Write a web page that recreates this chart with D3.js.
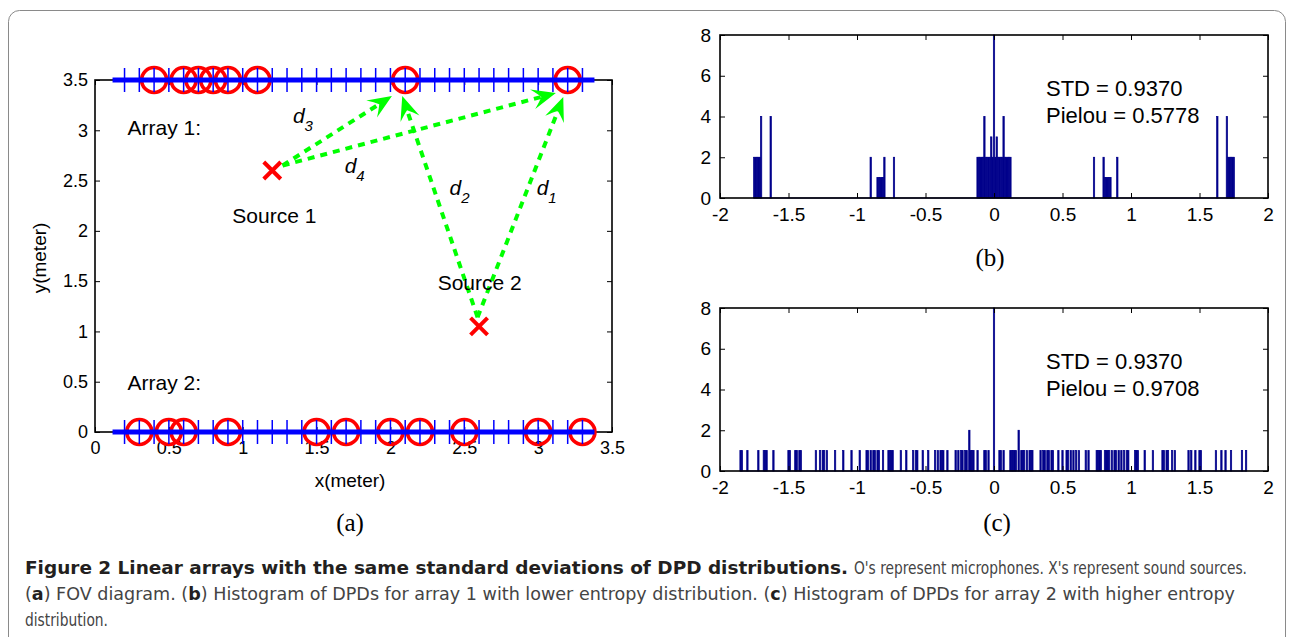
<!DOCTYPE html>
<html><head><meta charset="utf-8">
<script src="https://cdn.jsdelivr.net/npm/d3@7"></script>
<style>
html,body{margin:0;padding:0;background:#fff;}
svg{display:block;font-family:"Liberation Sans",Arial,sans-serif;}
</style></head><body>
<svg id="c" width="1290" height="637"></svg>
<script>
// ---------------- data ----------------
const array1X = [0.4, 0.6, 0.7, 0.8, 0.9, 1.1, 2.1, 3.2];
const array1Y = 3.5;
const array2X = [0.3, 0.5, 0.6, 0.9, 1.5, 1.7, 2.0, 2.2, 2.5, 3.0, 3.3];
const array2Y = 0;
const gridX = [0.2,0.3,0.4,0.5,0.6,0.7,0.8,0.9,1.0,1.1,1.2,1.3,1.4,1.5,1.6,1.7,1.8,1.9,2.0,2.1,2.2,2.3,2.4,2.5,2.6,2.7,2.8,2.9,3.0,3.1,3.2,3.3];
const sourceX = [1.2, 2.6];
const sourceY = [2.6, 1.05];
const sourceNames = ["Source 1", "Source 2"];
const arrowLabels = ["3", "4", "2", "1"];
const arrowFrom = [[1.27, 2.65], [1.27, 2.65], [2.59, 1.14], [2.59, 1.14]];
const arrowTo   = [[2.01, 3.34], [3.12, 3.37], [2.08, 3.34], [3.17, 3.33]];
const axisTicksA = [0, 0.5, 1, 1.5, 2, 2.5, 3, 3.5];
const histXTicks = [-2, -1.5, -1, -0.5, 0, 0.5, 1, 1.5, 2];
const histYTicks = [0, 2, 4, 6, 8];

const binWidth = 0.01;
const histBCenters = [-1.75,-1.74,-1.73,-1.72,-1.71,-1.70,-1.63,-0.90,-0.85,-0.84,-0.83,-0.82,-0.81,-0.80,-0.73,
 -0.12,-0.11,-0.10,-0.09,-0.08,-0.07,-0.06,-0.05,-0.04,-0.03,-0.02,-0.01,0,0.01,0.02,0.03,0.04,0.05,0.06,0.07,0.08,0.09,0.10,0.11,0.12,
 0.73,0.80,0.81,0.82,0.83,0.84,0.85,0.90,1.63,1.70,1.71,1.72,1.73,1.74,1.75];
const histBCounts = [2,2,2,2,2,4,4,2,1,1,1,1,1,2,2,
 2,2,2,2,2,4,2,2,2,2,3,2,8,2,3,2,2,2,2,4,2,2,2,2,2,
 2,2,1,1,1,1,1,2,4,4,2,2,2,2,2];

const histCCenters = [-1.85,-1.84,-1.80,-1.72,-1.68,-1.67,-1.66,-1.61,-1.50,-1.49,-1.45,-1.44,-1.42,-1.41,-1.30,-1.27,-1.25,-1.24,-1.22,-1.16,-1.10,-1.04,-0.98,-0.93,-0.92,-0.90,-0.88,-0.87,-0.85,-0.84,-0.81,-0.77,-0.76,-0.75,-0.74,-0.68,-0.64,-0.59,-0.57,-0.56,-0.52,-0.48,-0.43,-0.41,-0.39,-0.38,-0.37,-0.34,-0.28,-0.26,-0.24,-0.23,-0.21,-0.20,-0.18,-0.17,-0.16,-0.15,-0.12,-0.07,-0.06,-0.04,
 0,
 0.04,0.05,0.07,0.12,0.13,0.14,0.15,0.16,0.18,0.20,0.21,0.22,0.24,0.26,0.27,0.28,0.34,0.36,0.37,0.39,0.40,0.42,0.43,0.47,0.50,0.53,0.54,0.56,0.58,0.60,0.62,0.67,0.69,0.75,0.76,0.77,0.78,0.81,0.82,0.83,0.84,0.86,0.88,0.89,0.91,0.93,0.95,0.97,0.98,1.03,1.04,1.05,1.10,1.16,1.23,1.24,1.26,1.27,1.30,1.32,1.42,1.44,1.47,1.50,1.51,1.62,1.66,1.69,1.73,1.81,1.84];
const histCCounts = histCCenters.map(v => v === 0 ? 8 : (Math.abs(Math.abs(v) - 0.18) < 1e-9 ? 2 : 1));

const statsB = ["STD = 0.9370", "Pielou = 0.5778"];
const statsC = ["STD = 0.9370", "Pielou = 0.9708"];

// ---------------- drawing ----------------
const svg = d3.select("#c");
const RED = "#ff0000", BLUE = "#0000ff", GREEN = "#00ff00", NAVY = "#00008b";
const fmt = d => d3.format("~g")(d).replace("\u2212", "-");

// outer frame
svg.append("rect").attr("x", 8.5).attr("y", 10.5).attr("width", 1277).attr("height", 650)
  .attr("rx", 11).attr("fill", "none").attr("stroke", "#8a8a8a").attr("stroke-width", 1);

// ---- panel (a)
const xA = d3.scaleLinear().domain([0, 3.5]).range([95, 612]);
const yA = d3.scaleLinear().domain([0, 3.5]).range([432, 80]);
const gA = svg.append("g");

function boxAxes(g, x, y, xt, yt, fs, padX, padY) {
  const [x0, x1] = x.range(), [y0, y1] = y.range();
  const ax = g.append("g").attr("transform", `translate(0,${y0})`)
    .call(d3.axisBottom(x).tickValues(xt).tickFormat(fmt).tickSizeInner(-5).tickSizeOuter(0).tickPadding(padX));
  const ay = g.append("g").attr("transform", `translate(${x0},0)`)
    .call(d3.axisLeft(y).tickValues(yt).tickFormat(fmt).tickSizeInner(-5).tickSizeOuter(0).tickPadding(padY));
  const at = g.append("g").attr("transform", `translate(0,${y1})`)
    .call(d3.axisTop(x).tickValues(xt).tickFormat("").tickSizeInner(-5).tickSizeOuter(0));
  const ar = g.append("g").attr("transform", `translate(${x1},0)`)
    .call(d3.axisRight(y).tickValues(yt).tickFormat("").tickSizeInner(-5).tickSizeOuter(0));
  [ax, ay, at, ar].forEach(a => {
    a.select(".domain").remove();
    a.selectAll("line").attr("stroke", "#000").attr("stroke-width", 1);
    a.selectAll("text").attr("font-size", fs).attr("fill", "#000")
      .attr("font-family", "'Liberation Sans',Arial,sans-serif");
  });
  return g.append("rect").attr("x", x0).attr("y", y1).attr("width", x1 - x0).attr("height", y0 - y1)
    .attr("fill", "none").attr("stroke", "#000").attr("stroke-width", 1.6);
}
boxAxes(gA, xA, yA, axisTicksA, axisTicksA, 18, 9, 7);

// circles (mics)
[[array1X, array1Y], [array2X, array2Y]].forEach(([xs, yv]) => {
  gA.selectAll(null).data(xs).enter().append("circle")
    .attr("cx", d => xA(d)).attr("cy", yA(yv)).attr("r", 12.5)
    .attr("fill", "none").attr("stroke", RED).attr("stroke-width", 3.6);
});
// array lines with + markers
[array1Y, array2Y].forEach(yv => {
  gA.append("line").attr("x1", xA(gridX[0]) - 12).attr("x2", xA(gridX[gridX.length - 1]) + 12)
    .attr("y1", yA(yv)).attr("y2", yA(yv)).attr("stroke", BLUE).attr("stroke-width", 5);
  gA.selectAll(null).data(gridX).enter().append("line")
    .attr("x1", d => xA(d)).attr("x2", d => xA(d))
    .attr("y1", yA(yv) - 12).attr("y2", yA(yv) + 12)
    .attr("stroke", BLUE).attr("stroke-width", 1.5);
});
// sources
sourceX.forEach((sx, i) => {
  const cx = xA(sx), cy = yA(sourceY[i]), s = 8.5;
  gA.append("path").attr("d", `M${cx - s},${cy - s}L${cx + s},${cy + s}M${cx - s},${cy + s}L${cx + s},${cy - s}`)
    .attr("stroke", RED).attr("stroke-width", 4).attr("fill", "none");
});
// arrows
arrowFrom.forEach((f, i) => {
  const x1 = xA(f[0]), y1 = yA(f[1]), x2 = xA(arrowTo[i][0]), y2 = yA(arrowTo[i][1]);
  const ang = Math.atan2(y2 - y1, x2 - x1), L = 24, W = 10, N = 15;
  const bx = x2 - N * Math.cos(ang), by = y2 - N * Math.sin(ang);
  gA.append("line").attr("x1", x1).attr("y1", y1).attr("x2", bx).attr("y2", by)
    .attr("stroke", GREEN).attr("stroke-width", 4).attr("stroke-dasharray", "7,6");
  const pt = (a, b) => [x2 + a * Math.cos(ang) - b * Math.sin(ang), y2 + a * Math.sin(ang) + b * Math.cos(ang)];
  const p1 = pt(-L, -W), p2 = pt(-N, 0), p3 = pt(-L, W), c1 = pt(-N - 3, -W * 0.4), c2 = pt(-N - 3, W * 0.4);
  gA.append("path").attr("d", `M${x2},${y2}L${p1}Q${c1} ${p2}Q${c2} ${p3}Z`).attr("fill", GREEN);
});
// annotations
const annA = gA.append("g").attr("font-size", 21).attr("fill", "#000");
annA.append("text").attr("x", xA(0.22)).attr("y", yA(2.95)).text("Array 1:");
annA.append("text").attr("x", xA(0.22)).attr("y", yA(0.42)).text("Array 2:");
annA.append("text").attr("x", xA(0.93)).attr("y", yA(2.08)).text(sourceNames[0]);
annA.append("text").attr("x", xA(2.32)).attr("y", yA(1.41)).text(sourceNames[1]);
const dPos = [[1.34, 3.07], [1.69, 2.58], [2.40, 2.36], [2.99, 2.36]];
dPos.forEach((p, i) => {
  const t = annA.append("text").attr("x", xA(p[0])).attr("y", yA(p[1])).attr("font-style", "italic");
  t.append("tspan").text("d");
  t.append("tspan").attr("font-size", 15).attr("dy", 8).text(arrowLabels[i]);
});
gA.append("text").attr("x", 350).attr("y", 487).attr("text-anchor", "middle").attr("font-size", 19).text("x(meter)");
gA.append("text").attr("transform", "translate(46,258) rotate(-90)").attr("text-anchor", "middle").attr("font-size", 19).text("y(meter)");
gA.append("text").attr("x", 350).attr("y", 531).attr("text-anchor", "middle").attr("font-size", 25)
  .attr("font-family", "'Liberation Serif','Times New Roman',serif").text("(a)");

// ---- histograms
const xH = d3.scaleLinear().domain([-2, 2]).range([720, 1268]);
function hist(yTop, yBot, centers, counts, stats, label, labelX, labelY) {
  const y = d3.scaleLinear().domain([0, 8]).range([yBot, yTop]);
  const g = svg.append("g");
  const bw = xH(binWidth) - xH(0);
  g.append("line").attr("x1", xH(d3.min(centers) - binWidth / 2)).attr("x2", xH(d3.max(centers) + binWidth / 2))
    .attr("y1", y(0)).attr("y2", y(0)).attr("stroke", NAVY).attr("stroke-width", 1.2);
  g.selectAll(null).data(centers).enter().append("rect")
    .attr("x", d => xH(d) - bw / 2).attr("width", bw)
    .attr("y", (d, i) => y(counts[i])).attr("height", (d, i) => y(0) - y(counts[i]))
    .attr("fill", NAVY).attr("stroke", NAVY).attr("stroke-width", 0.7);
  boxAxes(g, xH, y, histXTicks, histYTicks, 19, 10, 9);
  const st = g.append("g").attr("font-size", 22).attr("fill", "#000");
  st.append("text").attr("x", 1046).attr("y", y(5.02)).text(stats[0]);
  st.append("text").attr("x", 1046).attr("y", y(3.70)).text(stats[1]);
  g.append("text").attr("x", labelX).attr("y", labelY).attr("text-anchor", "middle").attr("font-size", 25)
    .attr("font-family", "'Liberation Serif','Times New Roman',serif").text(label);
}
hist(35, 198, histBCenters, histBCounts, statsB, "(b)", 990, 266);
hist(308, 471, histCCenters, histCCounts, statsC, "(c)", 997, 531);

// ---- caption
const cap = svg.append("g").attr("font-family", "'DejaVu Sans Condensed','Liberation Sans Narrow','Liberation Sans',sans-serif")
  .attr("font-stretch", "condensed").attr("font-size", 17);
cap.append("text").attr("x", 25).attr("y", 574).attr("font-weight", "bold").attr("fill", "#231f20")
  .attr("textLength", 823).attr("lengthAdjust", "spacingAndGlyphs")
  .text("Figure 2 Linear arrays with the same standard deviations of DPD distributions.");
cap.append("text").attr("x", 854).attr("y", 574).attr("fill", "#444")
  .attr("textLength", 393).attr("lengthAdjust", "spacingAndGlyphs")
  .text("O's represent microphones. X's represent sound sources.");
const l2 = cap.append("text").attr("x", 25).attr("y", 600).attr("fill", "#444")
  .attr("textLength", 1210).attr("lengthAdjust", "spacingAndGlyphs");
[["(", 0], ["a", 1], [") FOV diagram. (", 0], ["b", 1], [") Histogram of DPDs for array 1 with lower entropy distribution. (", 0], ["c", 1], [") Histogram of DPDs for array 2 with higher entropy", 0]]
  .forEach(([t, b]) => l2.append("tspan").attr("font-weight", b ? "bold" : null).attr("fill", b ? "#231f20" : null).text(t));
cap.append("text").attr("x", 25).attr("y", 626).attr("fill", "#444")
  .attr("textLength", 83).attr("lengthAdjust", "spacingAndGlyphs").text("distribution.");
</script>
</body></html>
